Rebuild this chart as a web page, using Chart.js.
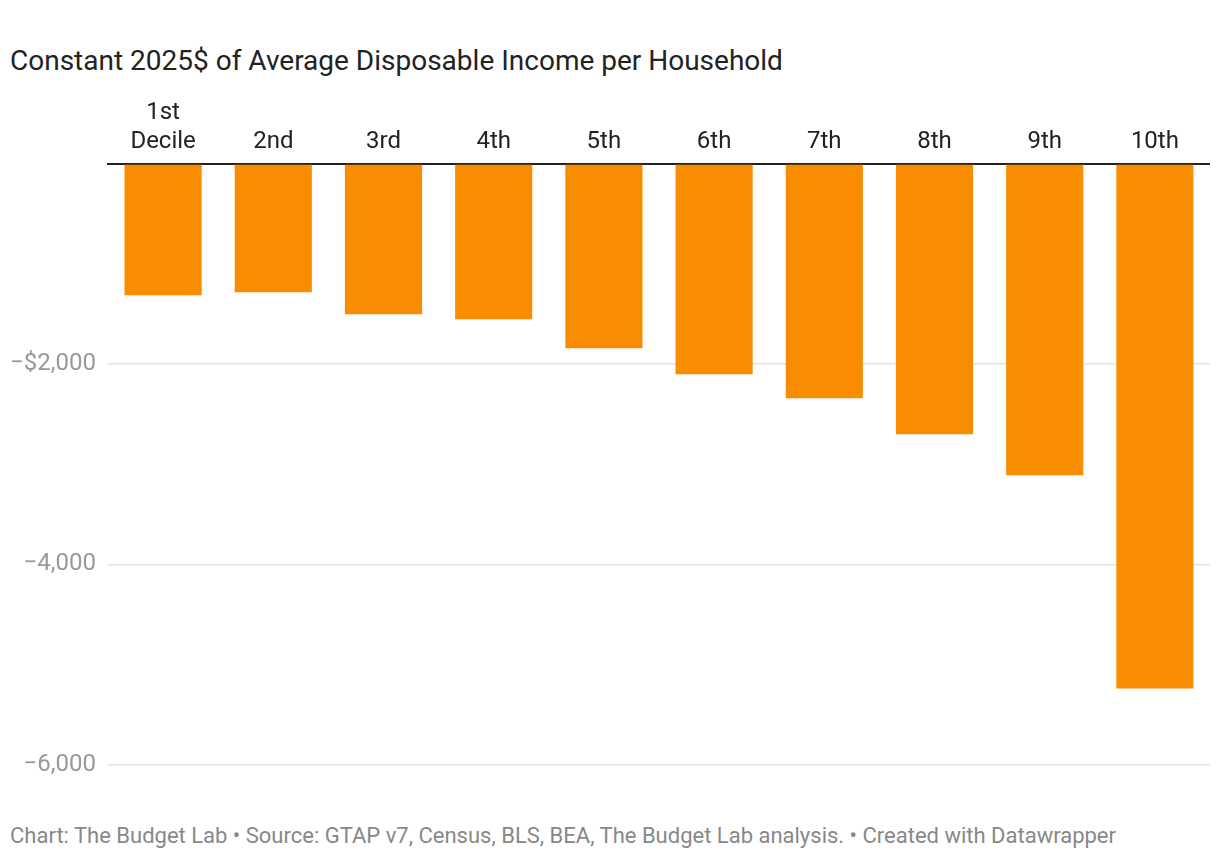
<!DOCTYPE html>
<html>
<head>
<meta charset="utf-8">
<script src="https://cdn.jsdelivr.net/npm/chart.js@4/dist/chart.umd.min.js"></script>
<style>
  html, body { margin: 0; padding: 0; background: #fff; }
  body { width: 1220px; height: 860px; position: relative; overflow: hidden; font-family: Roboto, "Noto Sans", sans-serif; }
  #title { position: absolute; left: 10px; top: 45px; font-size: 28px; color: #222; white-space: nowrap; line-height: 32px; }
  #footer { position: absolute; left: 10px; top: 824px; font-size: 22px; color: #888; white-space: nowrap; line-height: 24px; }
  #wrap { position: absolute; left: 0; top: 90px; width: 1210px; height: 701px; }
</style>
</head>
<body>
<div id="title">Constant 2025$ of Average Disposable Income per Household</div>
<div id="wrap"><canvas id="c"></canvas></div>
<div id="footer">Chart: The Budget Lab • Source: GTAP v7, Census, BLS, BEA, The Budget Lab analysis. • Created with Datawrapper</div>
<script>
const categories = [["1st", "Decile"], "2nd", "3rd", "4th", "5th", "6th", "7th", "8th", "9th", "10th"];
const incomeChange = [-1310, -1280, -1500, -1550, -1840, -2100, -2340, -2700, -3110, -5240];
const yTickValues = [0, -2000, -4000, -6000];
const yTickLabels = ["", "\u2212$2,000", "\u22124,000", "\u22126,000"];

new Chart(document.getElementById('c'), {
  type: 'bar',
  data: {
    labels: categories,
    datasets: [{
      data: incomeChange,
      backgroundColor: '#f98c00',
      borderWidth: 0,
      barPercentage: 0.7,
      categoryPercentage: 1.0
    }]
  },
  options: {
    responsive: true,
    maintainAspectRatio: false,
    animation: false,
    layout: { padding: { top: 0, bottom: 0, left: 0, right: 0 } },
    plugins: { legend: { display: false }, tooltip: { enabled: false } },
    scales: {
      x: {
        position: 'top',
        grid: { display: false, drawTicks: false },
        border: { display: true, color: '#222', width: 2 },
        ticks: {
          color: '#222',
          padding: 7,
          maxRotation: 0,
          autoSkip: false,
          font: { family: 'Roboto', size: 24, lineHeight: 1.21 }
        },
        afterFit: (s) => { s.height = 74; }
      },
      y: {
        min: -6000,
        max: 0,
        afterBuildTicks: (s) => { s.ticks = yTickValues.map(v => ({ value: v })); },
        grid: {
          drawTicks: false,
          color: (ctx) => ctx.tick && ctx.tick.value === 0 ? 'rgba(0,0,0,0)' : '#e3e3e3',
          lineWidth: 1.5
        },
        border: { display: false },
        ticks: {
          color: '#999',
          padding: 12,
          font: { family: 'Roboto', size: 24 },
          callback: (v) => { const i = yTickValues.indexOf(v); return i >= 0 ? yTickLabels[i] : ''; }
        },
        afterFit: (s) => { s.width = 108; }
      }
    }
  }
});
</script>
</body>
</html>
